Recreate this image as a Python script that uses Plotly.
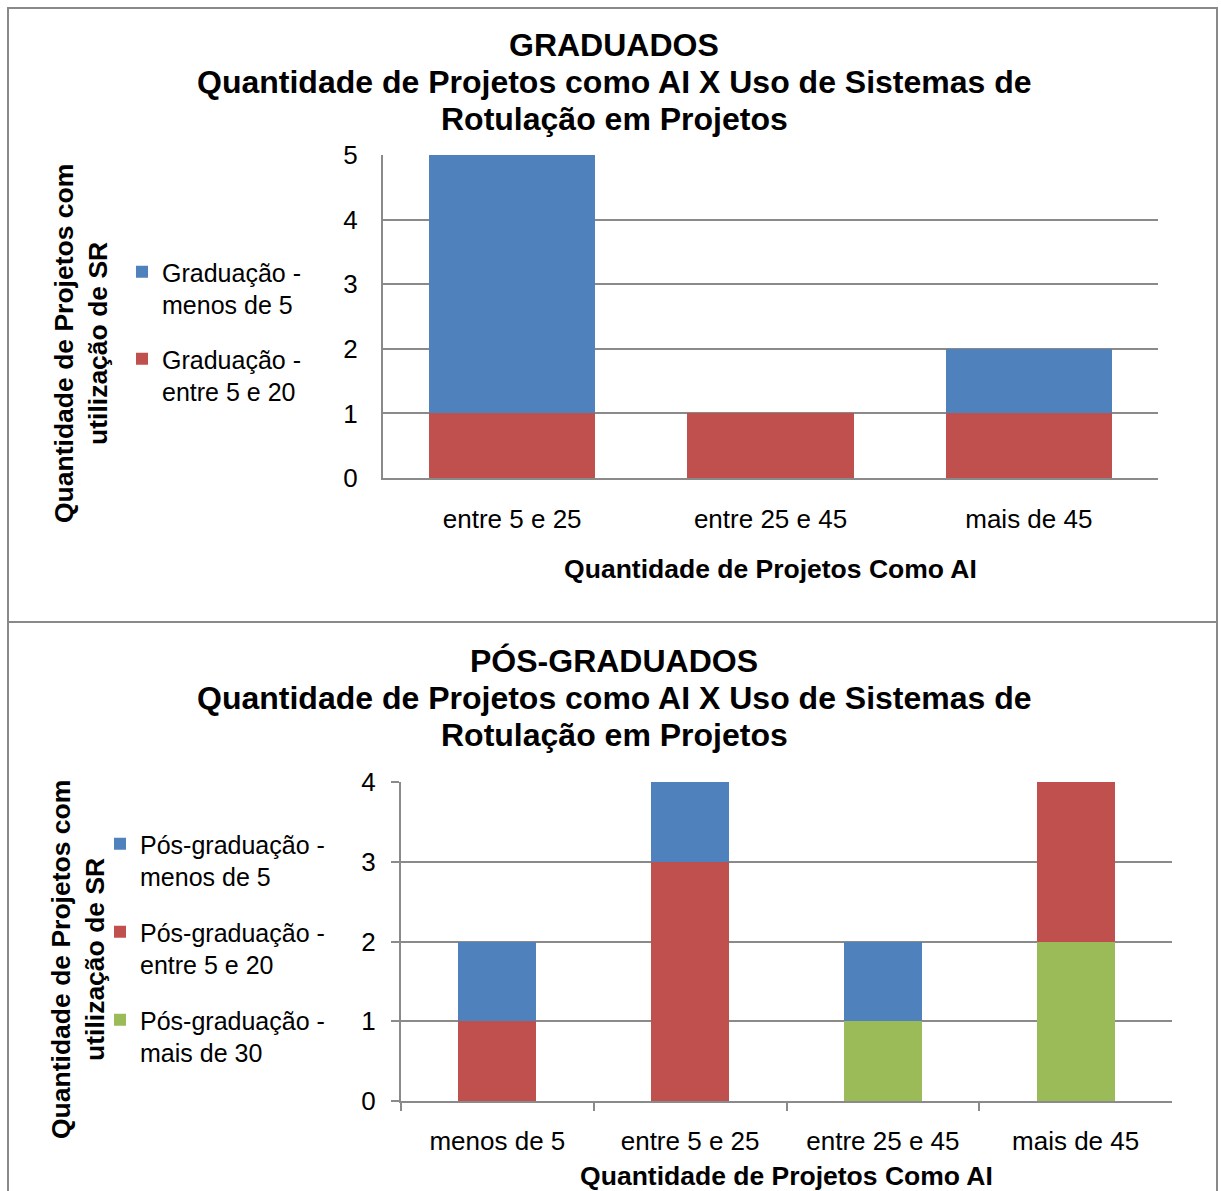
import plotly.graph_objects as go

# ---- data: graduados ----
grad_categories = ["entre 5 e 25", "entre 25 e 45", "mais de 45"]
grad_menos_5 = [4, 0, 1]
grad_entre_5_20 = [1, 1, 1]

# ---- data: pós-graduados ----
pos_categories = ["menos de 5", "entre 5 e 25", "entre 25 e 45", "mais de 45"]
pos_menos_5 = [1, 1, 1, 0]
pos_entre_5_20 = [1, 3, 0, 2]
pos_mais_30 = [0, 0, 1, 2]

grad_title = ["GRADUADOS",
              "Quantidade de Projetos como AI X Uso de Sistemas de",
              "Rotulação em Projetos"]
pos_title = ["PÓS-GRADUADOS",
             "Quantidade de Projetos como AI X Uso de Sistemas de",
             "Rotulação em Projetos"]
x_title = "Quantidade de Projetos Como AI"
y_title = "Quantidade de Projetos com<br>utilização de SR"

BLUE = "#4F81BD"
RED = "#C0504D"
GREEN = "#9BBB59"
GRID = "#8a8a8a"
FONT = "Liberation Sans, Arial, sans-serif"

W, H = 1221, 1191


def px_x(v):
    return v / W


def px_y(v):
    return 1 - v / H


fig = go.Figure()

# top chart (stack order: red below blue)
fig.add_trace(go.Bar(x=grad_categories, y=grad_entre_5_20, name="Graduação -<br>entre 5 e 20",
                     marker=dict(color=RED, line=dict(width=0)), xaxis="x", yaxis="y",
                     legend="legend", legendgroup="g2", legendrank=2))
fig.add_trace(go.Bar(x=grad_categories, y=grad_menos_5, name="Graduação -<br>menos de 5",
                     marker=dict(color=BLUE, line=dict(width=0)), xaxis="x", yaxis="y",
                     legend="legend", legendgroup="g1", legendrank=1))

# bottom chart (stack order: green, red, blue)
fig.add_trace(go.Bar(x=pos_categories, y=pos_mais_30, name="Pós-graduação -<br>mais de 30",
                     marker=dict(color=GREEN, line=dict(width=0)), xaxis="x2", yaxis="y2",
                     legend="legend2", legendgroup="p3", legendrank=3))
fig.add_trace(go.Bar(x=pos_categories, y=pos_entre_5_20, name="Pós-graduação -<br>entre 5 e 20",
                     marker=dict(color=RED, line=dict(width=0)), xaxis="x2", yaxis="y2",
                     legend="legend2", legendgroup="p2", legendrank=2))
fig.add_trace(go.Bar(x=pos_categories, y=pos_menos_5, name="Pós-graduação -<br>menos de 5",
                     marker=dict(color=BLUE, line=dict(width=0)), xaxis="x2", yaxis="y2",
                     legend="legend2", legendgroup="p1", legendrank=1))

axis_font = dict(family=FONT, size=26, color="black")
title_font = dict(family=FONT, size=26.5, color="black", weight="bold")

annotations = []
for ys, lines in ((45, grad_title), (661, pos_title)):
    for i, line in enumerate(lines):
        annotations.append(dict(text=f"<b>{line}</b>", x=px_x(614), y=px_y(ys + 37 * i),
                                xref="paper", yref="paper", xanchor="center", yanchor="middle",
                                showarrow=False, font=dict(family=FONT, size=32, color="black")))
for xc, yc in ((81, 343), (78, 960)):
    annotations.append(dict(text=f"<b>{y_title}</b>", x=px_x(xc), y=px_y(yc), textangle=-90,
                            xref="paper", yref="paper", xanchor="center", yanchor="middle",
                            showarrow=False, font=dict(family=FONT, size=26.5, color="black")))

shapes = [
    dict(type="rect", xref="paper", yref="paper", x0=px_x(8), x1=px_x(1217),
         y0=px_y(622), y1=px_y(8), line=dict(color="#898989", width=2)),
    dict(type="rect", xref="paper", yref="paper", x0=px_x(8), x1=px_x(1217),
         y0=px_y(1210), y1=px_y(622), line=dict(color="#898989", width=2)),
]

legend_common = dict(
    bgcolor="rgba(0,0,0,0)", borderwidth=0, font=dict(family=FONT, size=25, color="black"),
    traceorder="grouped", valign="top", xanchor="left", yanchor="top",
    itemclick=False, itemdoubleclick=False,
)

fig.update_layout(
    width=W, height=H,
    margin=dict(l=0, r=0, t=0, b=0, autoexpand=False),
    paper_bgcolor="white", plot_bgcolor="white",
    barmode="stack",
    font=dict(family=FONT, size=26, color="black"),
    xaxis=dict(domain=[px_x(383), px_x(1158)], anchor="y", showline=True, linecolor=GRID,
               linewidth=2, ticks="", tickfont=axis_font, ticklabelstandoff=17, automargin=False,
               title=dict(text=x_title, font=title_font, standoff=26)),
    yaxis=dict(domain=[px_y(478), px_y(155)], anchor="x", range=[0, 5], dtick=1,
               showline=True, linecolor=GRID, linewidth=2, showgrid=True, gridcolor=GRID,
               gridwidth=1.5, zeroline=False, ticks="", tickfont=axis_font, ticklabelstandoff=18,
               automargin=False),
    xaxis2=dict(domain=[px_x(401), px_x(1172)], anchor="y2", showline=True, linecolor=GRID,
                linewidth=2, ticks="outside", ticklen=8, tickcolor=GRID, tickwidth=2,
                tickson="boundaries", tickfont=axis_font, ticklabelstandoff=16, automargin=False,
                title=dict(text=x_title, font=title_font, standoff=14)),
    yaxis2=dict(domain=[px_y(1101), px_y(782)], anchor="x2", range=[0, 4], dtick=1,
                showline=True, linecolor=GRID, linewidth=2, showgrid=True, gridcolor=GRID,
                gridwidth=1.5, zeroline=False, ticks="outside", ticklen=8, tickcolor=GRID,
                tickwidth=2, tickfont=axis_font, ticklabelstandoff=10, automargin=False),
    bargap=0.356,
    legend=dict(x=px_x(122), y=px_y(249), tracegroupgap=19, **legend_common),
    legend2=dict(x=px_x(100), y=px_y(821), tracegroupgap=20, **legend_common),
    annotations=annotations,
    shapes=shapes,
    showlegend=True,
)

# bottom chart bars are narrower
fig.update_traces(width=0.405, selector=dict(xaxis="x2"))

fig.write_html("out.html")
